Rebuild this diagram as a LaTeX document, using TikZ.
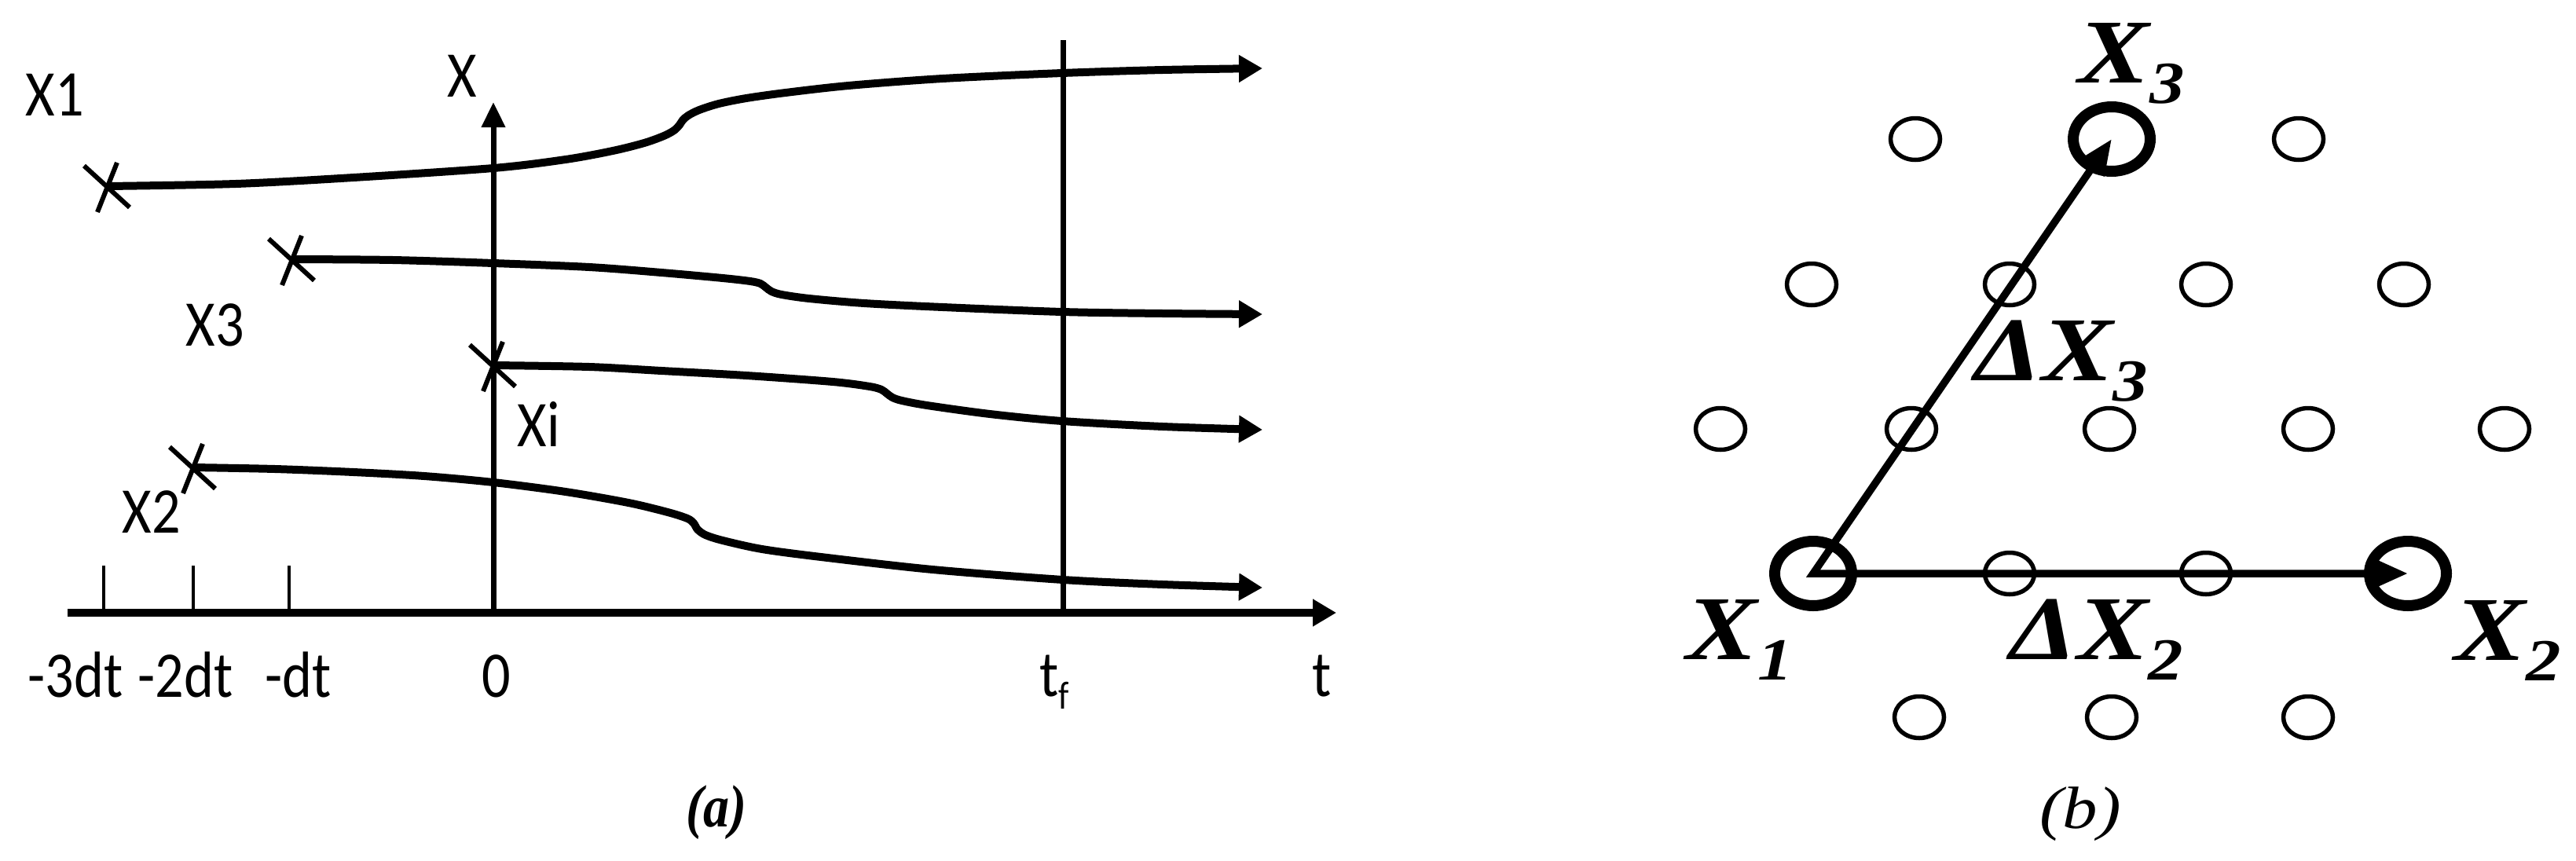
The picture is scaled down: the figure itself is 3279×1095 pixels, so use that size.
\documentclass[tikz,border=0pt]{standalone}
\usepackage{fontspec}
\usetikzlibrary{arrows.meta,shapes.geometric}
\newfontfamily\afont[FakeStretch=0.87]{Carlito}
\newfontfamily\bfontw[FakeStretch=1.17]{Liberation Serif}
\newfontfamily\bfontn[FakeStretch=0.87]{Liberation Serif}
\begin{document}
\begin{tikzpicture}[x=1pt,y=-1pt,
  curve/.style={line width=10pt},
  atip/.style={-{Triangle[length=30pt,width=33pt]}},
  axisline/.style={line width=7pt},
  taxis/.style={line width=10pt},
  tickline/.style={line width=4.5pt},
  crossline/.style={line width=6pt},
  xmark/.pic={\draw[crossline] (-30,-26) -- (28,27) (12,-30) -- (-13,33);},
  alabel/.style={font=\afont\fontsize{83}{90}\selectfont, inner sep=0pt, anchor=base},
  blabel/.style={font=\bfontw\bfseries\itshape\fontsize{116}{120}\selectfont, inner sep=0pt, anchor=base},
  smallc/.style={draw, ellipse, line width=5.5pt, minimum width=63pt, minimum height=53pt, inner sep=0pt},
  bigc/.style={draw, ellipse, line width=14pt, minimum width=98pt, minimum height=82pt, inner sep=0pt},
  vec/.style={line width=9.5pt, {Triangle[length=45pt,width=36pt]}-{Triangle[length=45pt,width=37pt]}}
]
\useasboundingbox (0,0) rectangle (3279,1095);

% ---------------- panel (a) ----------------
\coordinate (t0) at (86,780);
\coordinate (t1) at (1701,780);
\coordinate (o) at (628,780);
\coordinate (xtop) at (628,130);
\coordinate (tfb) at (1353,780);
\coordinate (tft) at (1353,51);
\draw[taxis, -{Triangle[length=30pt,width=33pt]}] (t0) -- (t1);
\draw[axisline, -{Triangle[length=32pt,width=29pt]}] (o) -- (xtop);
\draw[axisline] (tfb) -- (tft);
\foreach \x/\n in {132/a, 246/b, 368/c}{
  \coordinate (tk\n) at (\x,720);
  \coordinate (tb\n) at (\x,780);
  \draw[tickline] (tb\n) -- (tk\n);
}

\coordinate (s1) at (137,237);
\coordinate (s3) at (372,330);
\coordinate (si) at (628,465);
\coordinate (s2) at (246,595);
\coordinate (e1) at (1607,87);
\coordinate (e3) at (1607,400);
\coordinate (ei) at (1607,547);
\coordinate (e2) at (1607,748);

\draw[curve, atip] plot[smooth, tension=0.5] coordinates {(s1) (300,234) (450,226) (628,214) (720,203) (780,192) (820,182) (845,173) (858,166) (865,159) (869,153) (876,147) (890,140) (915,132) (950,125) (1000,118) (1080,109) (1200,100) (1352,93) (1480,89) (e1)};
\draw[curve, atip] plot[smooth, tension=0.5] coordinates {(s3) (500,331) (628,335) (750,340) (842,347) (920,354) (955,358) (968,361) (975,366) (982,371) (995,375) (1030,380) (1100,386) (1200,391) (1352,397) (1480,399) (e3)};
\draw[curve, atip] plot[smooth, tension=0.5] coordinates {(si) (750,467) (842,472) (950,478) (1060,486) (1107,492) (1122,496) (1129,501) (1136,506) (1148,510) (1180,516) (1260,527) (1352,536) (1480,543) (ei)};
\draw[curve, atip] plot[smooth, tension=0.5] coordinates {(s2) (350,597) (450,601) (540,606) (628,614) (720,626) (800,640) (850,652) (875,660) (883,666) (888,674) (898,681) (920,688) (970,699) (1045,709) (1187,725) (1353,738) (1480,744) (e2)};

\pic at (s1) {xmark};
\pic at (s3) {xmark};
\pic at (si) {xmark};
\pic at (s2) {xmark};

\node[alabel] (lx1) at (70,147) {X1};
\node[alabel] (lx) at (588,123) {X};
\node[alabel] (lx3) at (274,440) {X3};
\node[alabel] (lxi) at (686,568) {Xi};
\node[alabel] (lx2) at (193,678) {X2};
\node[alabel] (l3dt) at (96,887) {-3dt};
\node[alabel] (l2dt) at (236,887) {-2dt};
\node[alabel] (ldt) at (380,887) {-dt};
\node[alabel] (l0) at (632,887) {0};
\node[alabel] (ltf) at (1342,886) {t\raisebox{-16pt}{\fontsize{50}{50}\selectfont f}};
\node[alabel] (lt) at (1683,886) {t};
\node[font=\bfontn\bfseries\itshape\fontsize{76}{80}\selectfont, inner sep=0pt, anchor=base] (capa) at (912,1052) {(a)};

% ---------------- panel (b) ----------------
\node[smallc] (r1a) at (2438,177) {};
\node[bigc]   (x3)  at (2688,177) {};
\node[smallc] (r1c) at (2926,177) {};
\node[smallc] (r2a) at (2306,362) {};
\node[smallc] (r2b) at (2558,362) {};
\node[smallc] (r2c) at (2808,362) {};
\node[smallc] (r2d) at (3060,362) {};
\node[smallc] (r3a) at (2190,546) {};
\node[smallc] (r3b) at (2433,546) {};
\node[smallc] (r3c) at (2685,546) {};
\node[smallc] (r3d) at (2938,546) {};
\node[smallc] (r3e) at (3188,546) {};
\node[bigc]   (x1)  at (2308,730) {};
\node[smallc] (r4b) at (2558,730) {};
\node[smallc] (r4c) at (2808,730) {};
\node[bigc]   (x2)  at (3065,730) {};
\node[smallc] (r5a) at (2443,913) {};
\node[smallc] (r5b) at (2688,913) {};
\node[smallc] (r5c) at (2938,913) {};

\draw[vec] (x3.center) -- (x1.center) -- (x2.center);

\node[blabel] (lX3) at (2713,105) {X\raisebox{-26pt}{\fontsize{76}{76}\selectfont 3}};
\node[blabel] (lX1) at (2214,839) {X\raisebox{-26pt}{\fontsize{76}{76}\selectfont 1}};
\node[blabel] (lX2) at (3192,840) {X\raisebox{-26pt}{\fontsize{76}{76}\selectfont 2}};
\node[blabel] (ldX2) at (2669,839) {ΔX\raisebox{-26pt}{\fontsize{76}{76}\selectfont 2}};
\node[blabel] (ldX3) at (2624,484) {ΔX\raisebox{-26pt}{\fontsize{76}{76}\selectfont 3}};
\node[font=\bfontw\itshape\fontsize{76}{80}\selectfont, inner sep=0pt, anchor=base] (capb) at (2648,1054) {(b)};
\end{tikzpicture}
\end{document}
